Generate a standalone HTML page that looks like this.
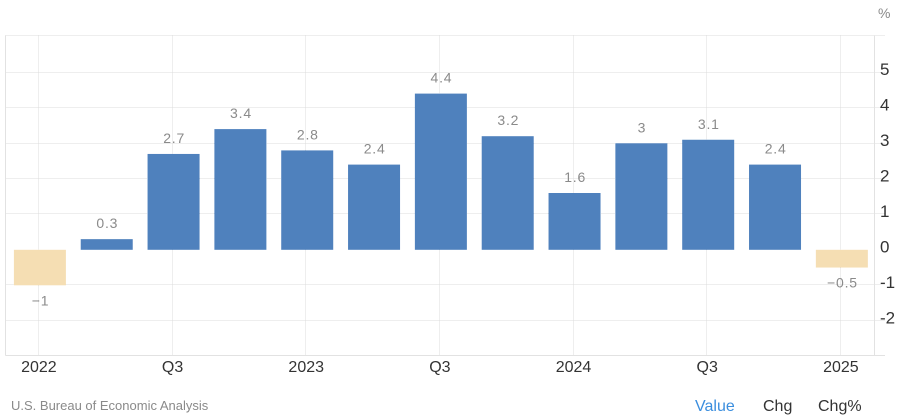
<!DOCTYPE html>
<html>
<head>
<meta charset="utf-8">
<style>
html,body{margin:0;padding:0;background:#fff;width:900px;height:419px;overflow:hidden}
svg{display:block;font-family:"Liberation Sans",sans-serif}
</style>
</head>
<body>
<svg id="chart" width="900" height="419" viewBox="0 0 900 419" xmlns="http://www.w3.org/2000/svg">
  <g id="grid"></g>
  <g id="bars"></g>
  <g id="axes"></g>
  <g id="labels"></g>
  <text x="878" y="18" font-size="14" fill="#8a8a8a">%</text>
  <text x="11" y="410" font-size="13" fill="#8a8a8a">U.S. Bureau of Economic Analysis</text>
  <text x="695" y="411" font-size="16" fill="#3b8ede">Value</text>
  <text x="763" y="411" font-size="16" fill="#333">Chg</text>
  <text x="818" y="411" font-size="16" fill="#333">Chg%</text>
</svg>
<script>
const categories = ["Q1 2022","Q2 2022","Q3 2022","Q4 2022","Q1 2023","Q2 2023","Q3 2023","Q4 2023","Q1 2024","Q2 2024","Q3 2024","Q4 2024","Q1 2025"];
const values = [-1, 0.3, 2.7, 3.4, 2.8, 2.4, 4.4, 3.2, 1.6, 3, 3.1, 2.4, -0.5];
const xTickLabels = ["2022","Q3","2023","Q3","2024","Q3","2025"];
const yTicks = [5, 4, 3, 2, 1, 0, -1, -2];

const NS = "http://www.w3.org/2000/svg";
const plotLeft = 5.5, plotRight = 874.5, plotTop = 35.5, plotBottom = 355.5, gridRight = 885;
const firstCenter = 39.9, step = 66.83, barWidth = 52;
const zeroY = 249.8, unit = 35.5;

function xScale(i) { return firstCenter + step * i; }
function yScale(v) { return zeroY - unit * v; }
function gridY(v) { return Math.floor(zeroY - 0.5 - 35.4 * v) + 0.5; }
function make(parent, tag, attrs, text) {
  const el = document.createElementNS(NS, tag);
  for (const k in attrs) el.setAttribute(k, attrs[k]);
  if (text !== undefined) el.textContent = text;
  parent.appendChild(el);
  return el;
}
const grid = document.getElementById("grid");
const barsG = document.getElementById("bars");
const axes = document.getElementById("axes");
const labels = document.getElementById("labels");
const gridStyle = { stroke: "#dcdcdc", "stroke-width": 1, "stroke-dasharray": "1 1" };

// top dotted line
const topLine = make(grid, "line", Object.assign({ x1: plotLeft, x2: gridRight, y1: plotTop, y2: plotTop }, gridStyle));



yTicks.forEach(function (t) {
  const y = gridY(t);
  if (t !== 0) {
    const g = make(grid, "line", Object.assign({ x1: plotLeft, x2: gridRight, y1: y, y2: y }, gridStyle));
    
    
  }
  const lab = make(axes, "text", { x: 880, y: yScale(t) + 2.5, "font-size": 17, fill: "#333" }, t < 0 ? "-" + Math.abs(t) : String(t));
  
  
});

xTickLabels.forEach(function (t, i) {
  const c = xScale(i * 2);
  const x = Math.round(c - 1.9) + 0.5;
  const g = make(grid, "line", Object.assign({ x1: x, x2: x, y1: plotTop, y2: plotBottom }, gridStyle));
  
  
  const lab = make(axes, "text", { x: c - 1, y: 372, "font-size": 16, fill: "#333", "text-anchor": "middle" }, t);
  
  
});

const frame = [
  [plotLeft, plotTop, plotLeft, plotBottom],
  [plotRight, plotTop, plotRight, plotBottom],
  [plotLeft, plotBottom, gridRight, plotBottom]
];
frame.forEach(function (f) {
  const l = make(axes, "line", { x1: f[0], y1: f[1], x2: f[2], y2: f[3], stroke: "#e2e2e2", "stroke-width": 1 });
  
  
});

values.forEach(function (v, i) {
  const c = xScale(i);
  const y0 = yScale(0), y1 = yScale(v);
  const r = make(barsG, "rect", {
    x: c - barWidth / 2, y: Math.min(y0, y1), width: barWidth, height: Math.abs(y1 - y0),
    fill: v >= 0 ? "#4f81bd" : "#f5deb3"
  });
  
  
  const ly = v >= 0 ? y1 - 11 : y1 + 20;
  const txt = (v < 0 ? "\u2212" + Math.abs(v) : String(v));
  const lab = make(labels, "text", { x: c + 0.6, y: ly, "font-size": 14, fill: "#8a8a8a", "text-anchor": "middle", "letter-spacing": "0.8" }, txt);
  
  
});
</script>
</body>
</html>
